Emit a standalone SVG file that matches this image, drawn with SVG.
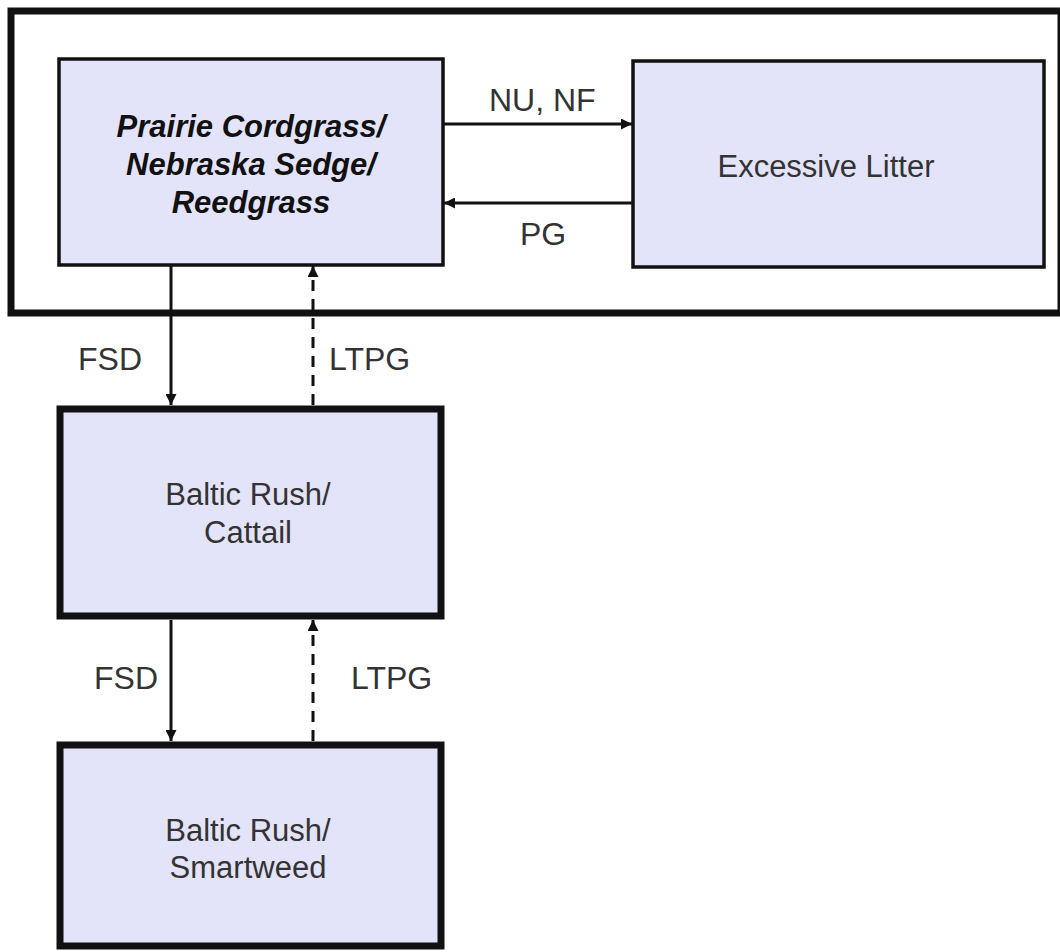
<svg xmlns="http://www.w3.org/2000/svg" width="1060" height="952" viewBox="0 0 1060 952">
<defs>
<style>
.box{fill:#e3e3fa;stroke:#111;}
.thin{stroke-width:3.5;}
.thick{stroke-width:7;}
.t{font-family:"Liberation Sans",Arial,sans-serif;font-size:31px;fill:#333;text-anchor:middle;}
.bi{font-weight:bold;font-style:italic;fill:#111;}
.lbl{font-family:"Liberation Sans",Arial,sans-serif;font-size:32px;fill:#333;}
.c{stroke:#111;stroke-width:3;fill:none;}
.dash{stroke-dasharray:11 8;}
</style>
<marker id="ah" viewBox="0 0 10 10" refX="10" refY="5" markerWidth="11" markerHeight="11" markerUnits="userSpaceOnUse" orient="auto">
<path d="M0,0 L10,5 L0,10 z" fill="#111"/>
</marker>
</defs>
<rect width="1060" height="952" fill="#fff"/>
<g id="frame"><rect x="11" y="11" width="1050" height="302" fill="none" stroke="#111" stroke-width="7"/></g>
<g id="connectors">
<line class="c" x1="444" y1="124" x2="632" y2="124" marker-end="url(#ah)"/>
<line class="c" x1="632" y1="203" x2="444" y2="203" marker-end="url(#ah)"/>
<line class="c" x1="171" y1="266" x2="171" y2="405" marker-end="url(#ah)"/>
<line class="c dash" x1="313" y1="405" x2="313" y2="266" marker-end="url(#ah)"/>
<line class="c" x1="171" y1="620" x2="171" y2="741" marker-end="url(#ah)"/>
<line class="c dash" x1="313" y1="741" x2="313" y2="620" marker-end="url(#ah)"/>
<text class="lbl" x="489" y="111">NU, NF</text>
<text class="lbl" x="520" y="245">PG</text>
<text class="lbl" x="78" y="370">FSD</text>
<text class="lbl" x="329" y="370">LTPG</text>
<text class="lbl" x="94" y="689">FSD</text>
<text class="lbl" x="351" y="689">LTPG</text>
</g>
<g id="prairie">
<rect class="box thin" x="59" y="59" width="384" height="206"/>
<text class="t bi" x="251" y="137">Prairie Cordgrass/</text>
<text class="t bi" x="251" y="175">Nebraska Sedge/</text>
<text class="t bi" x="251" y="213">Reedgrass</text>
</g>
<g id="litter">
<rect class="box thin" x="633" y="61" width="411" height="206"/>
<text class="t" x="826" y="177">Excessive Litter</text>
</g>
<g id="cattail">
<rect class="box thick" x="60" y="409" width="381" height="207"/>
<text class="t" x="248" y="505">Baltic Rush/</text>
<text class="t" x="248" y="543">Cattail</text>
</g>
<g id="smartweed">
<rect class="box thick" x="60" y="745" width="381" height="201"/>
<text class="t" x="248" y="841">Baltic Rush/</text>
<text class="t" x="248" y="878">Smartweed</text>
</g>
</svg>
